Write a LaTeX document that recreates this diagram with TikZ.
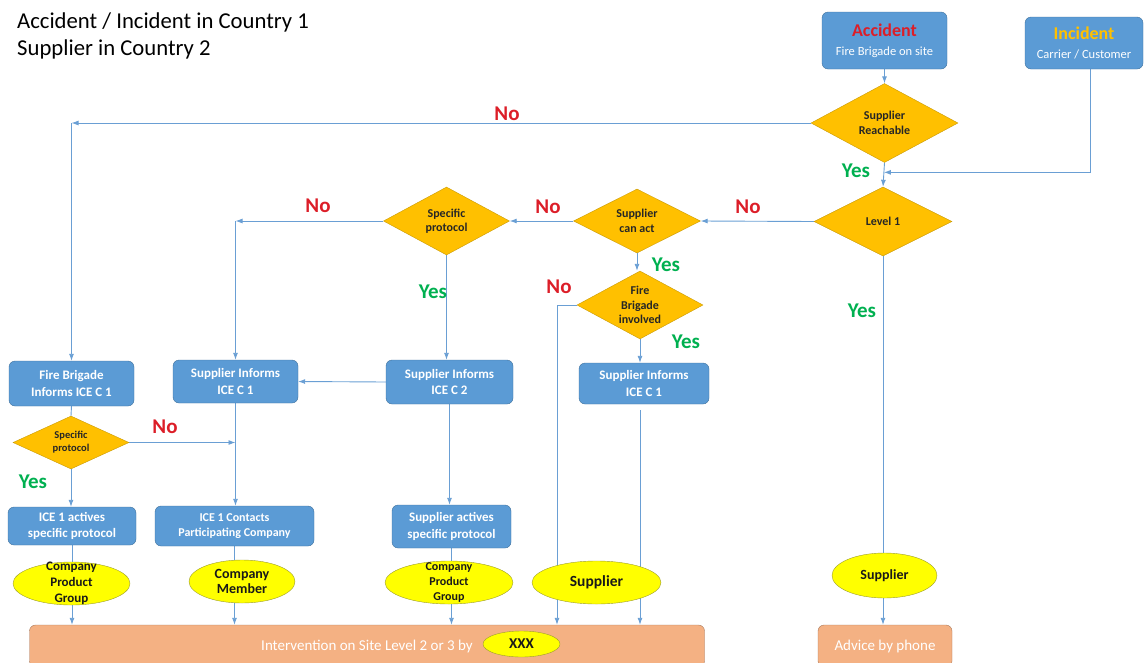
\documentclass[tikz,border=0pt]{standalone}
\usepackage{fontspec}
\setmainfont{Carlito}
\usepackage{xcolor}
\usepackage{tikz}
\usetikzlibrary{calc, shapes.geometric, positioning, arrows.meta}

\definecolor{boxblue}{HTML}{5B9BD5}
\definecolor{boxedge}{HTML}{41719C}
\definecolor{diagold}{HTML}{FFC000}
\definecolor{diagedge}{HTML}{C99A06}
\definecolor{ovalyel}{HTML}{FFFF00}
\definecolor{ovaledge}{HTML}{9C9C2E}
\definecolor{outorange}{HTML}{F4B183}
\definecolor{outedge}{HTML}{A8785A}
\definecolor{linkblue}{HTML}{6A9FD4}
\definecolor{noRed}{HTML}{DC1E28}
\definecolor{yesGreen}{HTML}{00B050}

\pgfdeclarelayer{background}
\pgfsetlayers{background,main}

\newcommand{\fsz}[2]{\fontsize{#1}{#2}\selectfont}

\tikzset{
    box/.style={rectangle, rounded corners=6pt, draw=boxedge, fill=boxblue, text=white,
        font=\bfseries\fsz{13}{16.5}, align=center, inner sep=0pt},
    decision/.style={diamond, aspect=1.9, draw=diagedge, fill=diagold, text=black!85,
        font=\bfseries\fsz{12}{14.5}, align=center, inner sep=0pt},
    oval/.style={ellipse, draw=ovaledge, fill=ovalyel, text=black!90,
        font=\bfseries\fsz{14}{15.8}, align=center, inner sep=0pt},
    ovaltext/.style={text=black!90, font=\bfseries\fsz{13}{15.8}, align=center, inner sep=0pt},
    outbox/.style={rectangle, rounded corners=6pt, draw=outedge, fill=outorange, text=white,
        font=\fsz{15}{18}, inner sep=0pt},
    answerno/.style={text=noRed, font=\bfseries\fsz{21}{24}},
    answeryes/.style={text=yesGreen, font=\bfseries\fsz{21}{24}},
    conn/.style={draw=linkblue, line width=0.9pt},
}

\begin{document}
\begin{tikzpicture}[>={Latex[length=7pt,width=5pt]}, x=1pt, y=-1pt]
    \useasboundingbox (0,0) rectangle (1144,662);
    \clip (0,0) rectangle (1144,662);

    % Titel
    \node[anchor=base west, font=\fsz{22.7}{27}, inner sep=0pt] (titleA) at (17,28) {Accident / Incident in Country 1};
    \node[anchor=base west, font=\fsz{22.7}{27}, inner sep=0pt] (titleB) at (17,55) {Supplier in Country 2};

    % Start
    \node[box, minimum width=125, minimum height=57] (accid) at (884.5,40.5)
        {{\color{noRed}\fsz{18}{20}Accident}\\[2.5pt]{\mdseries\fsz{12.5}{15}Fire Brigade on site}};
    \node[box, minimum width=118, minimum height=52] (incid) at (1084,43)
        {{\color{diagold}\fsz{18}{20}Incident}\\[2.5pt]{\mdseries\fsz{12.5}{15}Carrier / Customer}};

    % Entscheidungen
    \node[decision, minimum width=147, minimum height=79] (reach) at (884.5,123) {Supplier\\Reachable};
    \node[decision, minimum width=138, minimum height=69] (lvl) at (883,221.5) {Level 1};
    \node[decision, minimum width=127, minimum height=64] (canact) at (637,221) {Supplier\\can act};
    \node[decision, minimum width=126, minimum height=68] (proto) at (446.5,221) {Specific\\protocol};
    \node[decision, minimum width=126, minimum height=68] (fbinv) at (640,305) {Fire\\Brigade\\involved};
    \node[decision, minimum width=116, minimum height=53, font=\bfseries\fsz{10.5}{13}] (protoA) at (71,442.5) {Specific\\protocol};

    % Schritte
    \node[box, minimum width=125, minimum height=45] (fbinf) at (71.5,383.5) {Fire Brigade\\Informs ICE C 1};
    \node[box, minimum width=125, minimum height=43] (infA) at (235.5,381.5) {Supplier Informs\\ICE C 1};
    \node[box, minimum width=127, minimum height=44] (infB) at (449.5,382) {Supplier Informs\\ICE C 2};
    \node[box, minimum width=130, minimum height=41] (infC) at (644,383.5) {Supplier Informs\\ICE C 1};
    \node[box, minimum width=128, minimum height=38] (actA) at (72,526) {ICE 1 actives\\specific protocol};
    \node[box, minimum width=159, minimum height=40, font=\bfseries\fsz{12}{15.5}] (contact) at (234.5,526) {ICE 1 Contacts\\Participating Company};
    \node[box, minimum width=119, minimum height=43] (actB) at (451.5,526.5) {Supplier actives\\specific protocol};

    % Beteiligte
    \node[oval, minimum width=117, minimum height=43,
        label={[ovaltext]center:{Company\\Product\\Group}}] (grpA) at (71.5,583.5) {};
    \node[oval, minimum width=106, minimum height=43] (member) at (242,581.5) {Company\\Member};
    \node[oval, minimum width=128, minimum height=43,
        label={[ovaltext, font=\bfseries\fsz{12}{14.7}]center:{Company\\Product\\Group}}] (grpB) at (449,582.5) {};
    \node[oval, minimum width=129, minimum height=43, font=\bfseries\fsz{15.5}{18}] (suppA) at (596.5,582.5) {Supplier};
    \node[oval, minimum width=105, minimum height=45] (suppB) at (884.5,575.5) {Supplier};

    % Ergebnis
    \node[outbox, minimum width=675, minimum height=42] (interv) at (367,646) {Intervention on Site Level 2 or 3 by};
    \node[oval, minimum width=77, minimum height=26, font=\bfseries\fsz{15}{17}] (xxx) at (521.5,644) {XXX};
    \node[outbox, minimum width=134, minimum height=42] (advice) at (885,646) {Advice by phone};

    % Ja / Nein
    \node[answerno] (noA) at (507,114) {No};
    \node[answeryes] (yesA) at (856,171) {Yes};
    \node[answerno] (noB) at (748,207) {No};
    \node[answerno] (noC) at (548,207) {No};
    \node[answerno] (noD) at (318,206) {No};
    \node[answeryes] (yesB) at (666,265) {Yes};
    \node[answeryes] (yesC) at (433,292) {Yes};
    \node[answerno] (noE) at (559,287) {No};
    \node[answeryes] (yesD) at (686,342) {Yes};
    \node[answeryes] (yesE) at (862,311) {Yes};
    \node[answerno] (noF) at (165,427) {No};
    \node[answeryes] (yesF) at (33,482) {Yes};

    % Verbindungen
    \begin{pgfonlayer}{background}
        \draw[conn, ->] (accid.south) -- (reach.north);
        \coordinate (turnA) at (fbinf.north |- reach.west);
        \draw[conn, ->] (reach.west) -- (turnA);
        \draw[conn, ->] (turnA) -- (fbinf.north);
        \draw[conn, ->] (reach.south) -- (lvl.north);
        \coordinate (joinA) at ($(reach.south)!0.4!(lvl.north)$);
        \draw[conn, ->] ($(incid.south)+(6,0)$) |- (joinA);
        \draw[conn, ->] (lvl.west) -- (canact.east);
        \draw[conn, ->] (lvl.south) -- (lvl.south |- advice.north);
        \draw[conn, ->] (canact.west) -- (proto.east);
        \coordinate (turnB) at (infA.north |- proto.west);
        \draw[conn, ->] (proto.west) -- (turnB);
        \draw[conn, ->] (turnB) -- (infA.north);
        \draw[conn, ->] (proto.south) -- (proto.south |- infB.north);
        \draw[conn, ->] (canact.south) -- (canact.south |- fbinv.north);
        \draw[conn, ->] (fbinv.south) -- (fbinv.south |- infC.north);
        \coordinate (turnC) at (557,305);
        \draw[conn, ->] (fbinv.west) -- (turnC) -- (turnC |- interv.north);
        \draw[conn, ->] ([yshift=-6pt]fbinv.south |- infC.south) -- (fbinv.south |- interv.north);
        \draw[conn, ->] (infB.west) -- (infA.east);
        \draw[conn, ->] (infB.south) -- (infB.south |- actB.north);
        \draw[conn, ->] (actB.south) -- (actB.south |- interv.north);
        \draw[conn] (fbinf.south) -- (protoA.north);
        \draw[conn, ->] (protoA.east) -- (protoA.east -| infA.south);
        \draw[conn, ->] (protoA.south) -- (protoA.south |- actA.north);
        \draw[conn, ->] (actA.south) -- (actA.south |- interv.north);
        \draw[conn, ->] (infA.south) -- (infA.south |- contact.north);
        \draw[conn, ->] (contact.south) -- (contact.south |- interv.north);
    \end{pgfonlayer}
\end{tikzpicture}
\end{document}
